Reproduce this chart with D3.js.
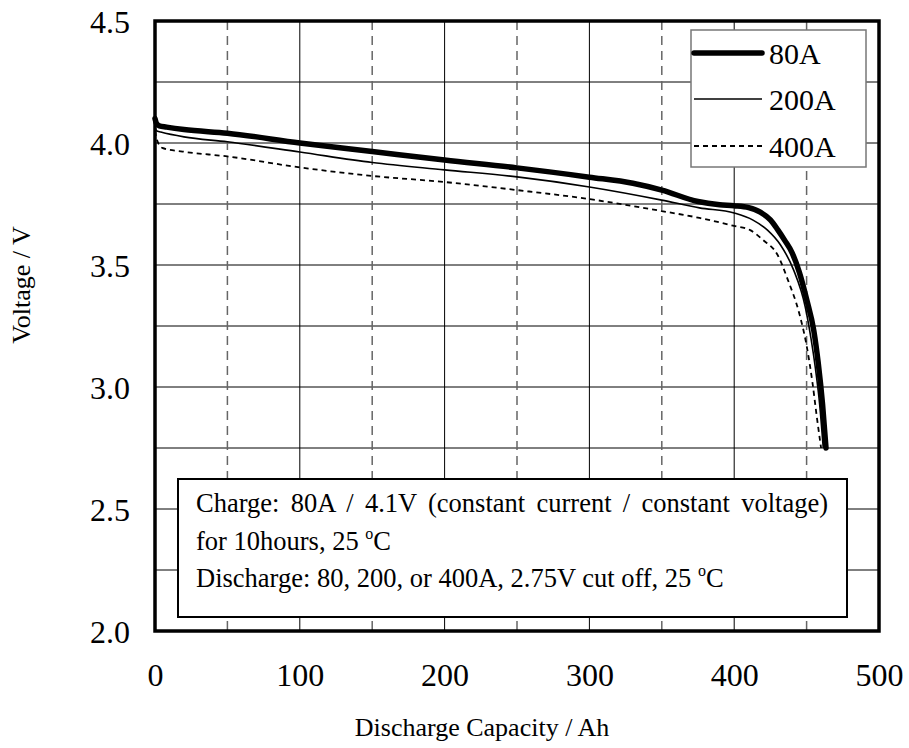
<!DOCTYPE html>
<html>
<head>
<meta charset="utf-8">
<script src="https://cdn.jsdelivr.net/npm/d3@7"></script>
<style>
  body { margin: 0; background: #fff; }
  svg { display: block; }
</style>
</head>
<body>
<svg id="chart" width="909" height="748"></svg>
<script>
// discharge curves (capacity Ah, voltage V)
const cap80 = [0, 1, 3, 8, 20, 50, 100, 150, 200, 250, 300, 330, 350, 375, 390, 400, 410, 418, 425, 430, 435, 440, 445, 450, 455, 458, 461, 463.4];
const volt80 = [4.10, 4.08, 4.07, 4.065, 4.055, 4.04, 4.00, 3.965, 3.93, 3.898, 3.86, 3.835, 3.807, 3.76, 3.747, 3.743, 3.735, 3.717, 3.685, 3.645, 3.60, 3.55, 3.47, 3.36, 3.23, 3.10, 2.93, 2.75];

const cap200 = [0, 1, 4, 20, 50, 100, 150, 200, 250, 300, 350, 376, 400, 413, 423, 432, 441, 449, 453, 456, 459, 461.5];
const volt200 = [4.065, 4.05, 4.045, 4.025, 4.005, 3.963, 3.92, 3.89, 3.861, 3.82, 3.766, 3.734, 3.713, 3.684, 3.643, 3.582, 3.48, 3.33, 3.20, 3.08, 2.93, 2.75];

const cap400 = [0, 1, 5, 19, 50, 100, 150, 200, 250, 300, 350, 376, 400, 411, 420, 430, 437, 445, 450, 454, 457, 460];
const volt400 = [4.05, 4.02, 3.98, 3.965, 3.945, 3.90, 3.865, 3.84, 3.807, 3.77, 3.721, 3.693, 3.66, 3.643, 3.602, 3.541, 3.44, 3.30, 3.17, 3.02, 2.88, 2.75];

const seriesNames = ['80A', '200A', '400A'];
const xTicks = [0, 100, 200, 300, 400, 500];
const xDashed = [50, 150, 250, 350, 450];
const yTicks = [2.0, 2.5, 3.0, 3.5, 4.0, 4.5];
const yGrid = [2.25, 2.5, 2.75, 3.0, 3.25, 3.5, 3.75, 4.0, 4.25];
const noteLines = [
  'Charge: 80A / 4.1V (constant current / constant voltage)',
  'for 10hours, 25 ',
  'Discharge: 80, 200, or 400A, 2.75V cut off, 25 '
];

const svg = d3.select('#chart');
const pL = 155, pR = 879, pT = 21, pB = 631;
const x = d3.scaleLinear().domain([0, 500]).range([pL, pR]);
const y = d3.scaleLinear().domain([2, 4.5]).range([pB, pT]);

const numFont = '"Liberation Serif", "Times New Roman", serif';

// grid
svg.append('g')
  .selectAll('line')
  .data(yGrid)
  .join('line')
  .attr('x1', pL).attr('x2', pR)
  .attr('y1', d => y(d)).attr('y2', d => y(d))
  .attr('stroke', '#000').attr('stroke-width', 1);

svg.append('g')
  .selectAll('line')
  .data(xTicks.slice(1, -1))
  .join('line')
  .attr('x1', d => x(d)).attr('x2', d => x(d))
  .attr('y1', pT).attr('y2', pB)
  .attr('stroke', '#000').attr('stroke-width', 1);

svg.append('g')
  .selectAll('line')
  .data(xDashed)
  .join('line')
  .attr('x1', d => x(d)).attr('x2', d => x(d))
  .attr('y1', pT).attr('y2', pB)
  .attr('stroke', '#666').attr('stroke-width', 1.5)
  .attr('stroke-dasharray', '9,6');

// note box
const note = svg.append('g');
note.append('rect')
  .attr('x', 178).attr('y', 479).attr('width', 669).attr('height', 138)
  .attr('fill', '#fff').attr('stroke', '#000').attr('stroke-width', 2);

const noteY = [512, 550, 587];
noteLines.forEach((t, i) => {
  const tx = note.append('text')
    .attr('x', 196).attr('y', noteY[i])
    .attr('font-family', numFont).attr('font-size', 26.5)
    .attr('fill', '#000');
  tx.append('tspan').text(t);
  if (i > 0) {
    tx.append('tspan').attr('font-size', 16).attr('dy', -11).text('o');
    tx.append('tspan').attr('dy', 11).text('C');
  }
  if (i === 0) {
    const w = tx.node().getComputedTextLength();
    const gaps = t.split(' ').length - 1;
    tx.attr('word-spacing', (828 - 196 - w) / gaps);
  }
});

// curves
const line = d3.line().x(d => x(d[0])).y(d => y(d[1])).curve(d3.curveMonotoneX);
const curves = [
  { pts: d3.zip(cap80, volt80), w: 5.5, dash: null },
  { pts: d3.zip(cap200, volt200), w: 1.6, dash: null },
  { pts: d3.zip(cap400, volt400), w: 1.8, dash: '5,4' }
];
svg.append('g')
  .selectAll('path')
  .data(curves)
  .join('path')
  .attr('d', d => line(d.pts))
  .attr('fill', 'none')
  .attr('stroke', '#000')
  .attr('stroke-width', d => d.w)
  .attr('stroke-linecap', (d, i) => i === 0 ? 'round' : 'butt')
  .attr('stroke-dasharray', d => d.dash);

// legend
const lg = svg.append('g');
lg.append('rect')
  .attr('x', 691).attr('y', 30).attr('width', 175).attr('height', 137)
  .attr('fill', '#fff').attr('stroke', '#777').attr('stroke-width', 1.5);
const lgY = [53, 99, 146];
seriesNames.forEach((n, i) => {
  lg.append('line')
    .attr('x1', 694).attr('x2', 762)
    .attr('y1', lgY[i]).attr('y2', lgY[i])
    .attr('stroke', '#000')
    .attr('stroke-width', curves[i].w)
    .attr('stroke-linecap', i === 0 ? 'round' : 'butt')
    .attr('stroke-dasharray', curves[i].dash);
  lg.append('text')
    .attr('x', 769).attr('y', lgY[i] + 11)
    .attr('font-family', numFont).attr('font-size', 30)
    .text(n);
});

// frame
svg.append('rect')
  .attr('x', pL).attr('y', pT)
  .attr('width', pR - pL).attr('height', pB - pT)
  .attr('fill', 'none').attr('stroke', '#000').attr('stroke-width', 3.5);

// axes labels
const yAxis = svg.append('g')
  .attr('transform', `translate(${pL},0)`)
  .call(d3.axisLeft(y).tickValues(yTicks).tickSize(0).tickPadding(25).tickFormat(d3.format('.1f')));
yAxis.select('.domain').remove();
yAxis.selectAll('text')
  .attr('font-family', numFont).attr('font-size', 32).attr('fill', '#000')
  .attr('dy', 11);

const xAxis = svg.append('g')
  .attr('transform', `translate(0,${pB})`)
  .call(d3.axisBottom(x).tickValues(xTicks).tickSize(0).tickFormat(d3.format('d')));
xAxis.select('.domain').remove();
xAxis.selectAll('text')
  .attr('font-family', numFont).attr('font-size', 32).attr('fill', '#000')
  .attr('y', 55).attr('dy', 0);

// titles
svg.append('text')
  .attr('x', 482).attr('y', 736)
  .attr('text-anchor', 'middle')
  .attr('font-family', numFont).attr('font-size', 26)
  .text('Discharge Capacity / Ah');

svg.append('text')
  .attr('transform', 'translate(30,285) rotate(-90)')
  .attr('text-anchor', 'middle')
  .attr('font-family', numFont).attr('font-size', 26)
  .text('Voltage / V');
</script>
</body>
</html>
